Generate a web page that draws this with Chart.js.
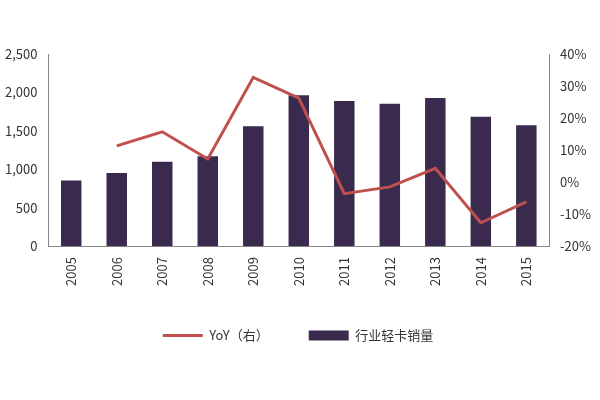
<!DOCTYPE html>
<html><head><meta charset="utf-8">
<script src="https://cdn.jsdelivr.net/npm/chart.js@4/dist/chart.umd.min.js"></script>
<style>body{margin:0;background:#fff}#w{width:600px;height:400px}</style></head>
<body><div id="w"><canvas id="c" width="600" height="400"></canvas></div>
<script>
const categories=['2005','2006','2007','2008','2009','2010','2011','2012','2013','2014','2015'];
const sales=[854,951,1098,1171,1561,1963,1890,1854,1927,1683,1573];
const yoy=[null,11.3,15.7,7.2,32.7,26.2,-3.6,-1.5,4.3,-12.7,-6.2];
const font={family:'"Noto Sans CJK SC", "Liberation Sans", sans-serif',size:13};
new Chart(document.getElementById('c'),{
data:{labels:categories,datasets:[
{type:'bar',label:'行业轻卡销量',data:sales,yAxisID:'y',backgroundColor:'#3a2b4e',barPercentage:0.75,categoryPercentage:0.6,order:1,pointStyle:'rect'},
{type:'line',label:'YoY（右）',data:yoy,yAxisID:'y1',borderColor:'#c0504d',backgroundColor:'#c0504d',borderWidth:3,pointRadius:0,tension:0,order:0,pointStyle:'line'}
]},
options:{responsive:false,animation:false,
layout:{padding:{left:2,right:6,top:54,bottom:48}},
plugins:{legend:{position:'bottom',labels:{font,color:'#333',usePointStyle:true,pointStyleWidth:40,boxHeight:10,padding:40}},tooltip:{enabled:false}},
scales:{
x:{grid:{display:false},border:{color:'#888'},ticks:{font,color:'#333',maxRotation:90,minRotation:90}},
y:{min:0,max:2500,ticks:{stepSize:500,font,color:'#333',callback:v=>v.toLocaleString('en-US')},grid:{display:false},border:{color:'#888'}},
y1:{position:'right',min:-20,max:40,ticks:{stepSize:10,font,color:'#333',callback:v=>v+'%'},grid:{display:false},border:{color:'#888'}}
}}});
</script></body></html>
